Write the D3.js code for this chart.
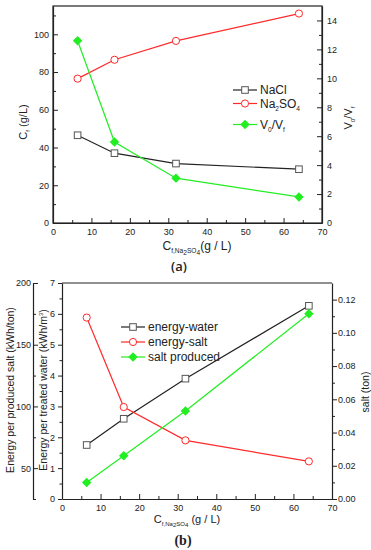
<!DOCTYPE html>
<html>
<head>
<meta charset="utf-8">
<script src="https://cdn.jsdelivr.net/npm/d3@7"></script>
<style>
  body { margin: 0; background: #fff; }
  svg { display: block; font-family: "Liberation Sans", Arial, sans-serif; }
  .tick text { font-size: 9px; fill: #222; }
  .domain, .tick line { stroke: #222; }
</style>
</head>
<body>
<div id="chart"></div>
<script>
// shared x values (feed Na2SO4 concentration, g/L)
const feedConc = [6.4, 16, 32, 64];

// panel (a)
const naclConc = [46.5, 37, 31.5, 28.5];
const na2so4Conc = [76.5, 86.5, 96.5, 111];
const volRatio = [12.6, 5.6, 3.1, 1.8];

// panel (b)
const energyWater = [1.75, 2.6, 3.9, 6.26];
const energySalt = [172, 99.5, 72.5, 55.5];
const saltProduced = [0.0099, 0.026, 0.053, 0.1115];

const xTicks = [0, 10, 20, 30, 40, 50, 60, 70];

const width = 371, height = 550;
const BLACK = "#222", RED = "#ff2a2a", GREEN = "#22ee22";

const svg = d3.select("#chart").append("svg")
    .attr("width", width)
    .attr("height", height);

// vertical offset (in em) for each script level; -1 = superscript
const levelShift = {"-1": -0.35, "0": 0, "1": 0.25, "2": 0.4};

// text with subscript parts: [[string, level]]
function richText(sel, parts, size) {
    const t = sel.append("text").attr("font-size", size).attr("fill", "#222");
    let prev = 0;
    parts.forEach(([s, l]) => {
        const shift = levelShift[l] * size;
        t.append("tspan")
            .attr("font-size", l !== 0 ? size * 0.55 : size)
            .attr("dy", shift - prev)
            .text(s);
        prev = shift;
    });
    return t;
}

function marker(g, type, x, y, color) {
    if (type === "square") {
        g.append("rect").attr("x", x - 3.3).attr("y", y - 3.3).attr("width", 6.6).attr("height", 6.6)
            .attr("fill", "#fff").attr("stroke", "#555").attr("stroke-width", 1);
    } else if (type === "circle") {
        g.append("circle").attr("cx", x).attr("cy", y).attr("r", 3.6)
            .attr("fill", "#fff").attr("stroke", color).attr("stroke-width", 1);
    } else {
        g.append("path").attr("d", d3.symbol(d3.symbolDiamond2, 34)())
            .attr("transform", `translate(${x},${y})`)
            .attr("fill", color).attr("stroke", color).attr("stroke-width", 1.5);
    }
}

function series(g, x, y, vals, color, type) {
    const pts = feedConc.map((c, i) => [x(c), y(vals[i])]);
    g.append("path")
        .attr("d", d3.line()(pts))
        .attr("fill", "none")
        .attr("stroke", color)
        .attr("stroke-width", 1.2);
    pts.forEach(p => marker(g, type, p[0], p[1], color));
}

function minorAxis(g, axisFn, scale, values, size) {
    g.append("g").call(axisFn(scale).tickValues(values).tickSize(size).tickFormat(""))
        .call(a => a.select(".domain").remove());
}

function legend(g, x, items) {
    items.forEach(it => {
        g.append("line").attr("x1", x).attr("x2", x + 24).attr("y1", it.y).attr("y2", it.y)
            .attr("stroke", it.color).attr("stroke-width", 1.2);
        marker(g, it.type, x + 12, it.y, it.color);
        richText(g, it.label, 12).attr("x", x + 27).attr("y", it.y + 4);
    });
}

// ---------------- panel (a) ----------------
{
    const g = svg.append("g");
    const left = 53, right = 322, top = 6, bottom = 223;
    const x = d3.scaleLinear().domain([0, 70]).range([left, right]);
    const yL = d3.scaleLinear().domain([0, 115]).range([bottom, top]);
    const yR = d3.scaleLinear().domain([0, 15]).range([bottom, top]);

    g.append("rect").attr("x", left).attr("y", top).attr("width", right - left).attr("height", bottom - top)
        .attr("fill", "none").attr("stroke", BLACK).attr("stroke-width", 1.2);

    const xa = g.append("g").attr("transform", `translate(0,${bottom})`);
    xa.call(d3.axisBottom(x).tickValues(xTicks).tickSizeInner(-5).tickSizeOuter(0).tickPadding(6));
    minorAxis(xa, d3.axisBottom, x, d3.range(5, 70, 10), -3);

    const ya = g.append("g").attr("transform", `translate(${left},0)`);
    ya.call(d3.axisLeft(yL).tickValues([0, 20, 40, 60, 80, 100]).tickSizeInner(-5).tickSizeOuter(0).tickPadding(4));
    minorAxis(ya, d3.axisLeft, yL, d3.range(10, 115, 20), -3);

    const yb = g.append("g").attr("transform", `translate(${right},0)`);
    yb.call(d3.axisRight(yR).tickValues([0, 2, 4, 6, 8, 10, 12, 14]).tickSizeInner(-5).tickSizeOuter(0).tickPadding(5));
    minorAxis(yb, d3.axisRight, yR, d3.range(1, 15, 2), -3);

    g.selectAll(".domain").attr("stroke-width", 1.2);

    series(g, x, yL, naclConc, BLACK, "square");
    series(g, x, yL, na2so4Conc, RED, "circle");
    series(g, x, yR, volRatio, GREEN, "diamond");

    legend(g, 233, [
        {y: 90, color: BLACK, type: "square", label: [["NaCl", 0]]},
        {y: 103.5, color: RED, type: "circle", label: [["Na", 0], ["2", 1], ["SO", 0], ["4", 1]]},
        {y: 124.5, color: GREEN, type: "diamond", label: [["V", 0], ["0", 1], ["/V", 0], ["f", 1]]}
    ]);

    richText(g.append("g").attr("transform", "translate(27,122) rotate(-90)"),
        [["C", 0], ["f", 1], [" (g/L)", 0]], 11).attr("text-anchor", "middle");
    richText(g.append("g").attr("transform", "translate(352,118) rotate(-90)"),
        [["V", 0], ["0", 1], ["/V", 0], ["f", 1]], 11).attr("text-anchor", "middle");
    richText(g, [["C", 0], ["f,Na", 1], ["2", 2], ["SO", 1], ["4", 2], ["(g / L)", 0]], 12)
        .attr("x", 197).attr("y", 250).attr("text-anchor", "middle");

    g.append("text").attr("x", 179).attr("y", 271).attr("text-anchor", "middle")
        .attr("font-family", "'Open Sans', sans-serif").attr("font-size", 13).attr("font-weight", 600)
        .attr("fill", "#222").text("(a)");
}

// ---------------- panel (b) ----------------
{
    const g = svg.append("g");
    const left = 62, right = 332, top = 283, bottom = 499, outer = 33;
    const x = d3.scaleLinear().domain([0, 70]).range([left, right]);
    const yW = d3.scaleLinear().domain([0, 7]).range([bottom, top]);
    const yS = d3.scaleLinear().domain([25, 200]).range([bottom, top]);
    const yR = d3.scaleLinear().domain([0, 0.13]).range([bottom, top]);

    g.append("line").attr("x1", left).attr("x2", right).attr("y1", top).attr("y2", top)
        .attr("stroke", BLACK).attr("stroke-width", 1.2);

    const xa = g.append("g").attr("transform", `translate(0,${bottom})`);
    xa.call(d3.axisBottom(x).tickValues(xTicks).tickSizeInner(-5).tickSizeOuter(0).tickPadding(6));
    minorAxis(xa, d3.axisBottom, x, d3.range(5, 70, 10), -3);

    const ya = g.append("g").attr("transform", `translate(${left},0)`);
    ya.call(d3.axisLeft(yW).ticks(7).tickSizeInner(4).tickSizeOuter(0).tickPadding(3));
    minorAxis(ya, d3.axisLeft, yW, d3.range(0.5, 7, 1), 2.5);

    const yo = g.append("g").attr("transform", `translate(${outer},0)`);
    yo.call(d3.axisLeft(yS).tickValues([50, 100, 150, 200]).tickSizeInner(-5).tickSizeOuter(0).tickPadding(2));
    minorAxis(yo, d3.axisLeft, yS, [25, 75, 125, 175], -3);

    const yb = g.append("g").attr("transform", `translate(${right},0)`);
    yb.call(d3.axisRight(yR).tickValues(d3.range(0, 0.121, 0.02)).tickFormat(d3.format(".2f"))
        .tickSizeInner(5).tickSizeOuter(0).tickPadding(1));
    minorAxis(yb, d3.axisRight, yR, d3.range(0.01, 0.13, 0.02), 3);

    g.selectAll(".domain").attr("stroke-width", 1.2);

    series(g, x, yW, energyWater, BLACK, "square");
    series(g, x, yS, energySalt, RED, "circle");
    series(g, x, yR, saltProduced, GREEN, "diamond");

    legend(g, 121, [
        {y: 327, color: BLACK, type: "square", label: [["energy-water", 0]]},
        {y: 342, color: RED, type: "circle", label: [["energy-salt", 0]]},
        {y: 357, color: GREEN, type: "diamond", label: [["salt produced", 0]]}
    ]);

    richText(g.append("g").attr("transform", "translate(14,390) rotate(-90)"),
        [["Energy per produced salt (kWh/ton)", 0]], 10.5).attr("text-anchor", "middle");
    richText(g.append("g").attr("transform", "translate(47,390) rotate(-90)"),
        [["Energy per treated water (kWh/m", 0], ["3", -1], [")", 0]], 10.5).attr("text-anchor", "middle");
    richText(g.append("g").attr("transform", "translate(369,392) rotate(-90)"),
        [["salt (ton)", 0]], 10.5).attr("text-anchor", "middle");
    richText(g, [["C", 0], ["f,Na", 1], ["2", 2], ["SO", 1], ["4", 2], [" (g / L)", 0]], 11)
        .attr("x", 187).attr("y", 523).attr("text-anchor", "middle");

    g.append("text").attr("x", 183).attr("y", 545).attr("text-anchor", "middle")
        .attr("font-family", "'Liberation Serif', serif").attr("font-size", 14).attr("font-weight", "bold")
        .attr("fill", "#222").text("(b)");
}
</script>
</body>
</html>
